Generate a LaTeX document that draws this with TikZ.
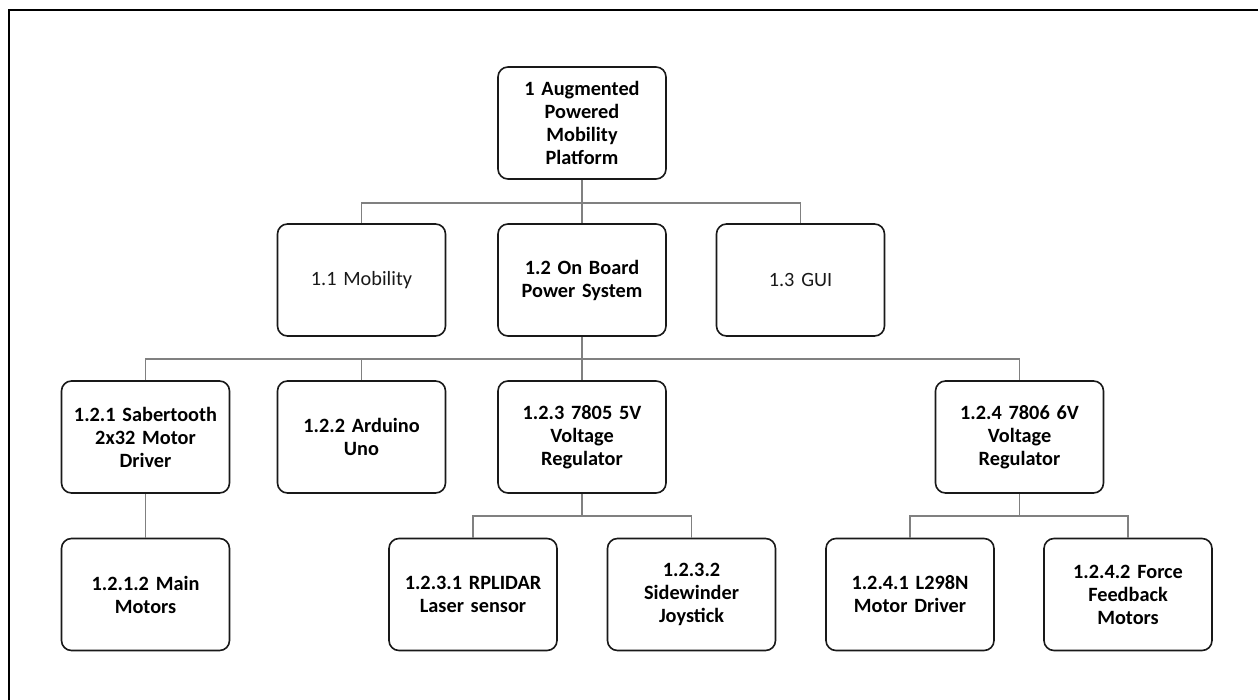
\documentclass[tikz,border=0pt]{standalone}
\usepackage{fontspec}
\setmainfont{Carlito}
\begin{document}
\begin{tikzpicture}[x=1pt,y=-1pt,
  box/.style={draw=black!90, line width=1.6pt, rounded corners=10pt,
    minimum width=168pt, minimum height=112pt, inner sep=0pt,
    align=center, text width=164pt, font=\fontsize{20.3}{23}\selectfont\bfseries, text=black},
  plain/.style={box, font=\fontsize{20.3}{23}\selectfont, text=black!90},
  conn/.style={draw=black!50, line width=1.3pt},
  frame/.style={draw=black, line width=1.6pt}]
\useasboundingbox (0,0) rectangle (1258,700);
\fill[white] (0,0) rectangle (1258,700);
\draw[frame] (9,700) -- (9,10) -- (1258,10);

\node[box] (root) at (582,123) {1 Augmented\\Powered\\Mobility\\Platform};
\node[plain] (n11) at (361.5,280) {1.1 Mobility};
\node[box] (n12) at (582,280) {1.2 On Board\\Power System};
\node[plain] (n13) at (800.5,280) {1.3 GUI};

\node[box] (n121) at (145.5,437) {1.2.1 Sabertooth\\2x32 Motor\\Driver};
\node[box] (n122) at (361.5,437) {1.2.2 Arduino\\Uno};
\node[box] (n123) at (582,437) {1.2.3 7805 5V\\Voltage\\Regulator};
\node[box] (n124) at (1019.5,437) {1.2.4 7806 6V\\Voltage\\Regulator};

\node[box] (n1212) at (145.5,594.5) {1.2.1.2 Main\\Motors};
\node[box] (n1231) at (473,594.5) {1.2.3.1 RPLIDAR\\Laser sensor};
\node[box] (n1232) at (691.5,594.5) {1.2.3.2\\Sidewinder\\Joystick};
\node[box] (n1241) at (910,594.5) {1.2.4.1 L298N\\Motor Driver};
\node[box] (n1242) at (1128,594.5) {1.2.4.2 Force\\Feedback\\Motors};

\coordinate (b1) at (582,203);
\coordinate (b2) at (582,359);
\coordinate (b3) at (582,516);
\coordinate (b4) at (1019.5,516);

\draw[conn] (root.south) -- (b1);
\draw[conn] (b1) -- (n12.north);
\draw[conn] (n11.north) |- (b1);
\draw[conn] (n13.north) |- (b1);

\draw[conn] (n12.south) -- (b2);
\draw[conn] (b2) -- (n123.north);
\draw[conn] (n121.north) |- (b2);
\draw[conn] (n122.north) |- (b2);
\draw[conn] (n124.north) |- (b2);

\draw[conn] (n121.south) -- (n1212.north);

\draw[conn] (n123.south) -- (b3);
\draw[conn] (n1231.north) |- (b3);
\draw[conn] (n1232.north) |- (b3);

\draw[conn] (n124.south) -- (b4);
\draw[conn] (n1241.north) |- (b4);
\draw[conn] (n1242.north) |- (b4);
\end{tikzpicture}
\end{document}
